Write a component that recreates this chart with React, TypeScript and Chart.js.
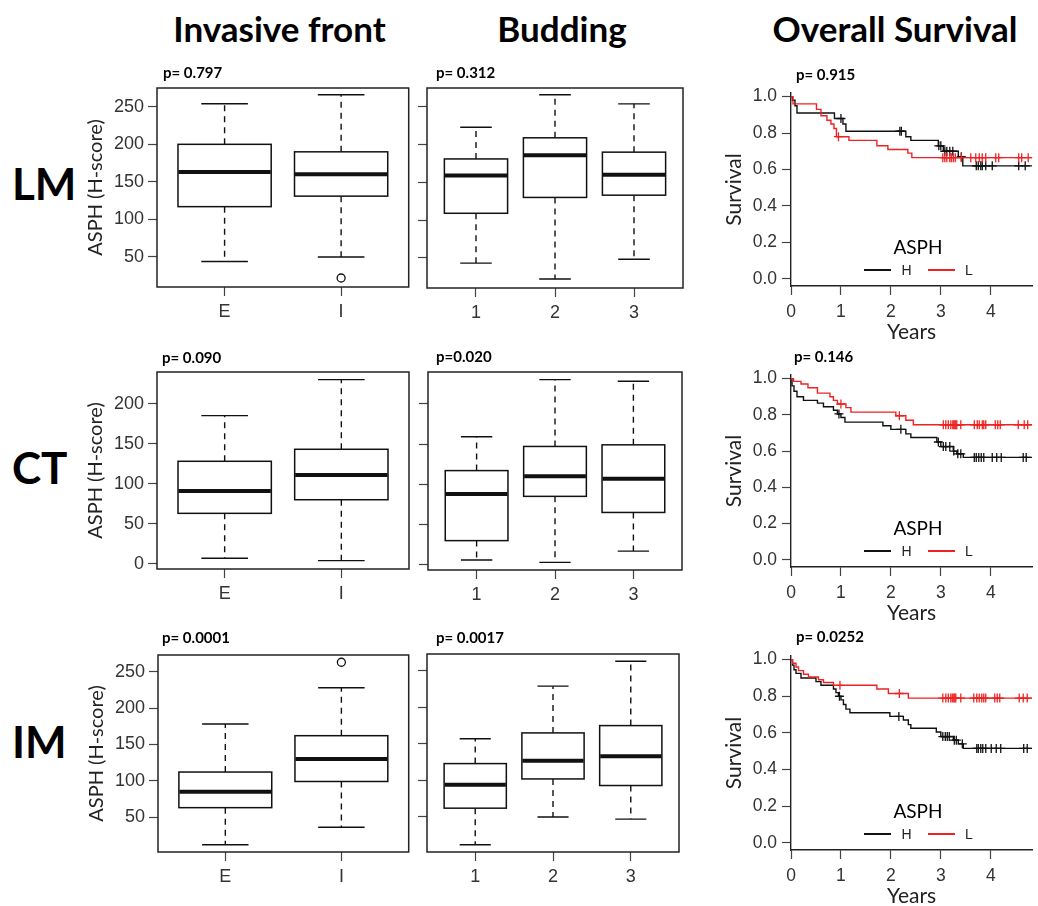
import React, { useEffect, useRef } from "react";
import { Chart, registerables } from "chart.js";

Chart.register(...registerables);

// ---------------- DATA ----------------
const COLUMN_TITLES = ["Invasive front", "Budding", "Overall Survival"];
const ROW_LABELS = ["LM", "CT", "IM"];

const FRONT_CATEGORIES = ["E", "I"];
const BUDDING_CATEGORIES = ["1", "2", "3"];

// Box statistics: [lower whisker, Q1, median, Q3, upper whisker]
const LM_FRONT_E = [44, 117, 163, 200, 254];
const LM_FRONT_I = [50, 131, 160, 190, 266];
const LM_FRONT_OUTLIERS = [[], [22]];
const LM_BUD_1 = [43, 109, 159, 181, 223];
const LM_BUD_2 = [22, 130, 186, 209, 266];
const LM_BUD_3 = [48, 133, 160, 190, 254];

const CT_FRONT_E = [7, 63, 91, 128, 185];
const CT_FRONT_I = [4, 80, 111, 143, 230];
const CT_BUD_1 = [6, 30, 88, 117, 159];
const CT_BUD_2 = [3, 85, 110, 147, 230];
const CT_BUD_3 = [17, 65, 107, 149, 228];

const IM_FRONT_E = [12, 63, 85, 112, 178];
const IM_FRONT_I = [36, 99, 130, 162, 228];
const IM_FRONT_OUTLIERS = [[], [263]];
const IM_BUD_1 = [12, 62, 94, 123, 157];
const IM_BUD_2 = [50, 102, 127, 165, 229];
const IM_BUD_3 = [47, 93, 133, 175, 263];

const LM_Y_RANGE = [10, 275];
const CT_Y_RANGE = [-6.5, 239.5];
const IM_Y_RANGE = [2, 273];
const LM_Y_TICKS = [50, 100, 150, 200, 250];
const CT_Y_TICKS = [0, 50, 100, 150, 200];
const IM_Y_TICKS = [50, 100, 150, 200, 250];

const P_VALUES = [
  ["p= 0.797", "p= 0.312", "p= 0.915"],
  ["p= 0.090", "p=0.020", "p= 0.146"],
  ["p= 0.0001", "p= 0.0017", "p= 0.0252"],
];

// Kaplan-Meier curves: event times (years) and survival after each step
const LM_H_TIMES = [0, 0.03, 0.08, 0.12, 0.87, 1.04, 1.1, 2.3, 2.4, 2.95, 3.05, 3.35, 3.44];
const LM_H_SURV = [1.0, 0.98, 0.95, 0.91, 0.88, 0.85, 0.81, 0.78, 0.76, 0.73, 0.7, 0.67, 0.62];
const LM_H_CENSOR = [1.0, 2.18, 2.21, 2.96, 3.0, 3.08, 3.12, 3.18, 3.24, 3.41, 3.71, 3.75, 3.8, 3.83, 3.9, 4.03, 4.56, 4.69];
const LM_L_TIMES = [0, 0.04, 0.51, 0.6, 0.72, 0.8, 0.86, 0.91, 1.16, 1.72, 1.94, 2.34, 2.42];
const LM_L_SURV = [1.0, 0.96, 0.93, 0.895, 0.87, 0.85, 0.825, 0.78, 0.76, 0.73, 0.71, 0.69, 0.665];
const LM_L_CENSOR = [0.95, 3.04, 3.08, 3.12, 3.18, 3.21, 3.25, 3.29, 3.41, 3.6, 3.7, 3.77, 3.83, 3.9, 4.1, 4.16, 4.56, 4.62, 4.75];

const CT_H_TIMES = [0, 0.02, 0.06, 0.12, 0.25, 0.53, 0.65, 0.85, 0.93, 1.0, 1.08, 1.84, 2.0, 2.3, 2.4, 2.92, 3.0, 3.25, 3.32, 3.45];
const CT_H_SURV = [1.0, 0.96, 0.93, 0.9, 0.88, 0.865, 0.845, 0.825, 0.805, 0.785, 0.76, 0.74, 0.72, 0.695, 0.675, 0.65, 0.625, 0.6, 0.585, 0.565];
const CT_H_CENSOR = [0.96, 2.2, 2.95, 3.05, 3.1, 3.18, 3.26, 3.34, 3.4, 3.67, 3.71, 3.76, 3.81, 3.86, 4.03, 4.12, 4.21, 4.65, 4.71];
const CT_L_TIMES = [0, 0.05, 0.2, 0.34, 0.53, 0.78, 0.85, 0.93, 1.1, 1.2, 2.1, 2.3, 2.45];
const CT_L_SURV = [1.0, 0.985, 0.97, 0.95, 0.92, 0.9, 0.88, 0.86, 0.84, 0.815, 0.795, 0.77, 0.745];
const CT_L_CENSOR = [1.0, 2.17, 3.05, 3.1, 3.15, 3.2, 3.24, 3.26, 3.28, 3.3, 3.32, 3.4, 3.67, 3.73, 3.77, 3.83, 3.86, 3.9, 4.09, 4.14, 4.19, 4.55, 4.67, 4.74];

const IM_H_TIMES = [0, 0.03, 0.06, 0.1, 0.2, 0.5, 0.6, 0.85, 0.9, 0.95, 1.0, 1.05, 1.1, 1.18, 1.98, 2.25, 2.35, 2.4, 2.91, 3.0, 3.25, 3.35, 3.45];
const IM_H_SURV = [1.0, 0.97, 0.945, 0.925, 0.9, 0.88, 0.86, 0.84, 0.82, 0.8, 0.78, 0.755, 0.73, 0.71, 0.69, 0.67, 0.645, 0.625, 0.605, 0.58, 0.56, 0.54, 0.515];
const IM_H_CENSOR = [0.97, 2.16, 3.04, 3.09, 3.13, 3.17, 3.27, 3.31, 3.43, 3.72, 3.75, 3.8, 3.84, 3.9, 4.01, 4.11, 4.2, 4.66, 4.73];
const IM_L_TIMES = [0, 0.03, 0.1, 0.15, 0.25, 0.35, 0.55, 0.65, 0.85, 1.72, 1.95, 2.35];
const IM_L_SURV = [1.0, 0.98, 0.96, 0.94, 0.92, 0.905, 0.89, 0.875, 0.86, 0.84, 0.815, 0.79];
const IM_L_CENSOR = [0.98, 2.17, 3.04, 3.1, 3.15, 3.2, 3.23, 3.26, 3.28, 3.3, 3.4, 3.66, 3.72, 3.77, 3.82, 3.86, 3.9, 4.08, 4.13, 4.18, 4.57, 4.65, 4.73];

const YEAR_TICKS = [0, 1, 2, 3, 4];
const SURV_TICKS = [0, 0.2, 0.4, 0.6, 0.8, 1.0];
const YEAR_RANGE = [0, 4.83];
const SURV_RANGE = [-0.04, 1.02];
const LEGEND_GROUPS = ["H", "L"];

// ---------------- STYLE ----------------
const RED = "#ee2222";
const BLACK = "#111111";
const TICK_FONT = { family: "'Liberation Sans', Arial, sans-serif", size: 18 };
const SURV_TICK_FONT = { family: "'Liberation Sans', Arial, sans-serif", size: 17.5 };
const TICK_COLOR = "#333";

const PT = 12;
const PR = 4;
const BOX_XH = 40;
const SURV_YW = 71;
const SURV_XH = 59;

function boxPlugin(stats: number[][]) {
  return {
    id: "boxplotDraw",
    beforeDatasetsDraw(chart: any) {
      const { ctx, scales } = chart;
      const x = scales.x;
      const y = scales.y;
      ctx.save();
      stats.forEach((s, i) => {
        const pos = i + 1;
        const xc = x.getPixelForValue(pos);
        const half = x.getPixelForValue(pos + 0.4) - xc;
        const [lo, q1, med, q3, hi] = s.map((v) => y.getPixelForValue(v));
        ctx.strokeStyle = BLACK;
        ctx.lineWidth = 1.4;
        ctx.setLineDash([6, 5]);
        ctx.beginPath();
        ctx.moveTo(xc, q3);
        ctx.lineTo(xc, hi);
        ctx.moveTo(xc, q1);
        ctx.lineTo(xc, lo);
        ctx.stroke();
        ctx.setLineDash([]);
        ctx.beginPath();
        ctx.moveTo(xc - half / 2, hi);
        ctx.lineTo(xc + half / 2, hi);
        ctx.moveTo(xc - half / 2, lo);
        ctx.lineTo(xc + half / 2, lo);
        ctx.stroke();
        ctx.fillStyle = "#fff";
        ctx.fillRect(xc - half, q3, 2 * half, q1 - q3);
        ctx.lineWidth = 1.5;
        ctx.strokeRect(xc - half, q3, 2 * half, q1 - q3);
        ctx.lineWidth = 4;
        ctx.beginPath();
        ctx.moveTo(xc - half + 0.5, med);
        ctx.lineTo(xc + half - 0.5, med);
        ctx.stroke();
      });
      ctx.restore();
    },
    afterDraw(chart: any) {
      const { ctx, chartArea: a } = chart;
      ctx.save();
      ctx.strokeStyle = "#222";
      ctx.lineWidth = 1.5;
      ctx.strokeRect(a.left, a.top, a.right - a.left, a.bottom - a.top);
      ctx.restore();
    },
  };
}

function boxConfig(p: any) {
  const n = p.categories.length;
  const ext = n * 0.04;
  const outlierPoints = (p.outliers || []).flatMap((vals: number[], i: number) =>
    vals.map((v) => ({ x: i + 1, y: v }))
  );
  return {
    type: "scatter",
    data: {
      datasets: [
        {
          data: outlierPoints,
          pointStyle: "circle",
          pointRadius: 4,
          pointBackgroundColor: "rgba(0,0,0,0)",
          pointBorderColor: BLACK,
          pointBorderWidth: 1.3,
        },
      ],
    },
    options: {
      responsive: false,
      animation: false,
      devicePixelRatio: 1,
      events: [],
      layout: { padding: { top: PT, right: PR, left: 0, bottom: 0 } },
      plugins: { legend: { display: false }, tooltip: { enabled: false } },
      scales: {
        x: {
          type: "linear",
          min: 0.5 - ext,
          max: n + 0.5 + ext,
          afterBuildTicks: (s: any) => {
            s.ticks = p.categories.map((_: string, i: number) => ({ value: i + 1 }));
          },
          afterFit: (s: any) => {
            s.height = BOX_XH;
            s.paddingLeft = 0;
            s.paddingRight = 0;
          },
          ticks: {
            callback: (v: number) => p.categories[Math.round(v) - 1],
            font: TICK_FONT,
            color: TICK_COLOR,
            padding: 5,
            autoSkip: false,
            maxRotation: 0,
          },
          grid: { drawOnChartArea: false, drawTicks: true, tickLength: 9, tickColor: "#444", tickWidth: 1.2 },
          border: { display: false },
        },
        y: {
          type: "linear",
          min: p.yRange[0],
          max: p.yRange[1],
          afterBuildTicks: (s: any) => {
            s.ticks = p.yTicks.map((v: number) => ({ value: v }));
          },
          afterFit: (s: any) => {
            s.width = p.yW;
            s.paddingTop = 0;
            s.paddingBottom = 0;
          },
          ticks: {
            display: p.showLabels,
            font: TICK_FONT,
            color: TICK_COLOR,
            padding: 4,
            callback: (v: number) => String(v),
          },
          grid: { drawOnChartArea: false, drawTicks: true, tickLength: 9, tickColor: "#444", tickWidth: 1.2 },
          border: { display: false },
          title: {
            display: !!p.yTitle,
            text: p.yTitle || "",
            font: { family: "Lato", size: 20 },
            color: "#222",
            padding: { top: 3, bottom: 0 },
          },
        },
      },
    },
    plugins: [boxPlugin(p.stats)],
  };
}

function survAt(times: number[], surv: number[], t: number) {
  let v = surv[0];
  for (let i = 0; i < times.length; i++) if (times[i] <= t) v = surv[i];
  return v;
}

function survConfig(p: any) {
  const steps = (t: number[], s: number[]) => [
    ...t.map((x, i) => ({ x, y: s[i] })),
    { x: YEAR_RANGE[1], y: s[s.length - 1] },
  ];
  const cens = (t: number[], s: number[], c: number[]) => c.map((x) => ({ x, y: survAt(t, s, x) }));
  const lineDs = (data: any, color: string, order: number) => ({
    data,
    borderColor: color,
    borderWidth: 1.4,
    stepped: true,
    pointRadius: 0,
    fill: false,
    order,
  });
  const censDs = (data: any, color: string, order: number) => ({
    data,
    showLine: false,
    pointStyle: "cross",
    pointRadius: 4.5,
    pointBorderWidth: 1.3,
    pointBorderColor: color,
    borderColor: color,
    order,
  });
  const axisCommon = {
    grid: { drawOnChartArea: false, drawTicks: true, tickLength: 9, tickColor: "#444", tickWidth: 1.2 },
    border: { display: true, color: "#222", width: 1.4 },
  };
  return {
    type: "line",
    data: {
      datasets: [
        lineDs(steps(p.lT, p.lS), RED, 0),
        censDs(cens(p.lT, p.lS, p.lC), RED, 1),
        lineDs(steps(p.hT, p.hS), BLACK, 2),
        censDs(cens(p.hT, p.hS, p.hC), BLACK, 3),
      ],
    },
    options: {
      responsive: false,
      animation: false,
      devicePixelRatio: 1,
      events: [],
      layout: { padding: { top: PT, right: 0, left: 0, bottom: 0 } },
      plugins: { legend: { display: false }, tooltip: { enabled: false } },
      scales: {
        x: {
          type: "linear",
          min: YEAR_RANGE[0],
          max: YEAR_RANGE[1],
          afterBuildTicks: (s: any) => {
            s.ticks = YEAR_TICKS.map((v) => ({ value: v }));
          },
          afterFit: (s: any) => {
            s.height = SURV_XH;
            s.paddingLeft = 0;
            s.paddingRight = 0;
          },
          ticks: { font: SURV_TICK_FONT, color: TICK_COLOR, padding: 7, maxRotation: 0, autoSkip: false, callback: (v: number) => String(v) },
          title: { display: true, text: "Years", font: { family: "Lato", size: 21 }, color: "#222", padding: { top: 0, bottom: 0 } },
          ...axisCommon,
        },
        y: {
          type: "linear",
          min: SURV_RANGE[0],
          max: SURV_RANGE[1],
          afterBuildTicks: (s: any) => {
            s.ticks = SURV_TICKS.map((v) => ({ value: v }));
          },
          afterFit: (s: any) => {
            s.width = SURV_YW;
            s.paddingTop = 0;
            s.paddingBottom = 0;
          },
          ticks: { font: SURV_TICK_FONT, color: TICK_COLOR, padding: 5, callback: (v: number) => v.toFixed(1) },
          title: { display: true, text: "Survival", font: { family: "Lato", size: 21 }, color: "#222", padding: { top: 2, bottom: 0 } },
          ...axisCommon,
        },
      },
    },
  };
}

function ChartCanvas({ left, top, width, height, makeConfig }: any) {
  const ref = useRef<HTMLCanvasElement>(null);
  useEffect(() => {
    const chart = new Chart(ref.current as HTMLCanvasElement, makeConfig());
    return () => chart.destroy();
  }, []);
  return (
    <canvas
      ref={ref}
      width={width}
      height={height}
      style={{ position: "absolute", left, top, width, height }}
    />
  );
}

function BoxPanel(p: any) {
  const { l, t, r, b } = p.frame;
  const yW = p.yTitle ? 76 : 14;
  const left = l - yW;
  const top = t - PT;
  const width = r - l + yW + PR;
  const height = b - t + PT + BOX_XH;
  return (
    <ChartCanvas
      left={left}
      top={top}
      width={width}
      height={height}
      makeConfig={() => boxConfig({ ...p, yW })}
    />
  );
}

function SurvPanel(p: any) {
  const { l, t, b } = p.frame;
  const left = l - SURV_YW;
  const top = t - PT;
  const width = 1038 - left;
  const height = b - t + PT + SURV_XH;
  const legY = Math.round(b - 17);
  return (
    <>
      <ChartCanvas left={left} top={top} width={width} height={height} makeConfig={() => survConfig(p)} />
      <Txt x={918} baseline={b - 38 + 0.37 * 19} size={19} align="center">
        ASPH
      </Txt>
      <div style={{ position: "absolute", left: 864, top: legY, width: 27, height: 1.5, background: BLACK }} />
      <Txt x={906.5} baseline={legY + 6} size={14} align="center" family="'Liberation Sans', Arial, sans-serif" ascent={0.905} color="#222">
        {LEGEND_GROUPS[0]}
      </Txt>
      <div style={{ position: "absolute", left: 928, top: legY, width: 27, height: 1.5, background: RED }} />
      <Txt x={969} baseline={legY + 6} size={14} align="center" family="'Liberation Sans', Arial, sans-serif" ascent={0.905} color="#222">
        {LEGEND_GROUPS[1]}
      </Txt>
    </>
  );
}

function Txt({ x, baseline, size, bold, align, family, children, ascent, color }: any) {
  const fam = family || "Lato";
  const asc = ascent || 0.987;
  const lh = fam === "Lato" ? 1.2 : 1.149;
  return (
    <div
      style={{
        position: "absolute",
        left: x,
        top: baseline - asc * size,
        fontFamily: fam,
        fontSize: size,
        fontWeight: bold ? 700 : 400,
        lineHeight: lh,
        whiteSpace: "nowrap",
        color: color || "#000",
        transform: align === "center" ? "translateX(-50%)" : undefined,
      }}
    >
      {children}
    </div>
  );
}

export default function App() {
  const boxRows = [
    {
      front: { frame: { l: 157, t: 88, r: 410, b: 287 }, stats: [LM_FRONT_E, LM_FRONT_I], outliers: LM_FRONT_OUTLIERS, yRange: LM_Y_RANGE, yTicks: LM_Y_TICKS },
      bud: { frame: { l: 427, t: 88, r: 683, b: 288 }, stats: [LM_BUD_1, LM_BUD_2, LM_BUD_3], yRange: LM_Y_RANGE, yTicks: LM_Y_TICKS },
    },
    {
      front: { frame: { l: 157, t: 372, r: 409, b: 569 }, stats: [CT_FRONT_E, CT_FRONT_I], outliers: [], yRange: CT_Y_RANGE, yTicks: CT_Y_TICKS },
      bud: { frame: { l: 428, t: 372, r: 682, b: 570 }, stats: [CT_BUD_1, CT_BUD_2, CT_BUD_3], yRange: CT_Y_RANGE, yTicks: CT_Y_TICKS },
    },
    {
      front: { frame: { l: 158, t: 655, r: 410, b: 852 }, stats: [IM_FRONT_E, IM_FRONT_I], outliers: IM_FRONT_OUTLIERS, yRange: IM_Y_RANGE, yTicks: IM_Y_TICKS },
      bud: { frame: { l: 427, t: 654, r: 679, b: 852 }, stats: [IM_BUD_1, IM_BUD_2, IM_BUD_3], yRange: IM_Y_RANGE, yTicks: IM_Y_TICKS },
    },
  ];
  const survRows = [
    { frame: { l: 791, t: 93, b: 286 }, hT: LM_H_TIMES, hS: LM_H_SURV, hC: LM_H_CENSOR, lT: LM_L_TIMES, lS: LM_L_SURV, lC: LM_L_CENSOR },
    { frame: { l: 791, t: 375, b: 567 }, hT: CT_H_TIMES, hS: CT_H_SURV, hC: CT_H_CENSOR, lT: CT_L_TIMES, lS: CT_L_SURV, lC: CT_L_CENSOR },
    { frame: { l: 791, t: 656, b: 850 }, hT: IM_H_TIMES, hS: IM_H_SURV, hC: IM_H_CENSOR, lT: IM_L_TIMES, lS: IM_L_SURV, lC: IM_L_CENSOR },
  ];
  const pPos = [
    [{ x: 163, b: 78 }, { x: 436, b: 78 }, { x: 796, b: 80 }],
    [{ x: 162, b: 363 }, { x: 436, b: 362 }, { x: 794, b: 362 }],
    [{ x: 162, b: 643 }, { x: 436, b: 643 }, { x: 796, b: 642 }],
  ];
  const rowBaselines = [200, 484, 758];
  const headCenters = [279.5, 562, 895];

  return (
    <div
      style={{
        position: "absolute",
        left: 0,
        top: 0,
        width: 1038,
        height: 906,
        overflow: "hidden",
        background: "#fff",
      }}
    >
      {COLUMN_TITLES.map((t, i) => (
        <Txt key={t} x={headCenters[i]} baseline={42} size={35} bold align="center">
          {t}
        </Txt>
      ))}
      {ROW_LABELS.map((t, i) => (
        <Txt key={t} x={12} baseline={rowBaselines[i]} size={44} bold>
          {t}
        </Txt>
      ))}
      {boxRows.map((row, i) => (
        <React.Fragment key={"box" + i}>
          <BoxPanel {...row.front} categories={FRONT_CATEGORIES} showLabels={true} yTitle="ASPH (H-score)" />
          <BoxPanel {...row.bud} categories={BUDDING_CATEGORIES} showLabels={false} />
        </React.Fragment>
      ))}
      {survRows.map((row, i) => (
        <SurvPanel key={"surv" + i} {...row} />
      ))}
      {P_VALUES.map((row, i) =>
        row.map((p, j) => (
          <Txt key={p + i + j} x={pPos[i][j].x} baseline={pPos[i][j].b} size={15} bold>
            {p}
          </Txt>
        ))
      )}
    </div>
  );
}
